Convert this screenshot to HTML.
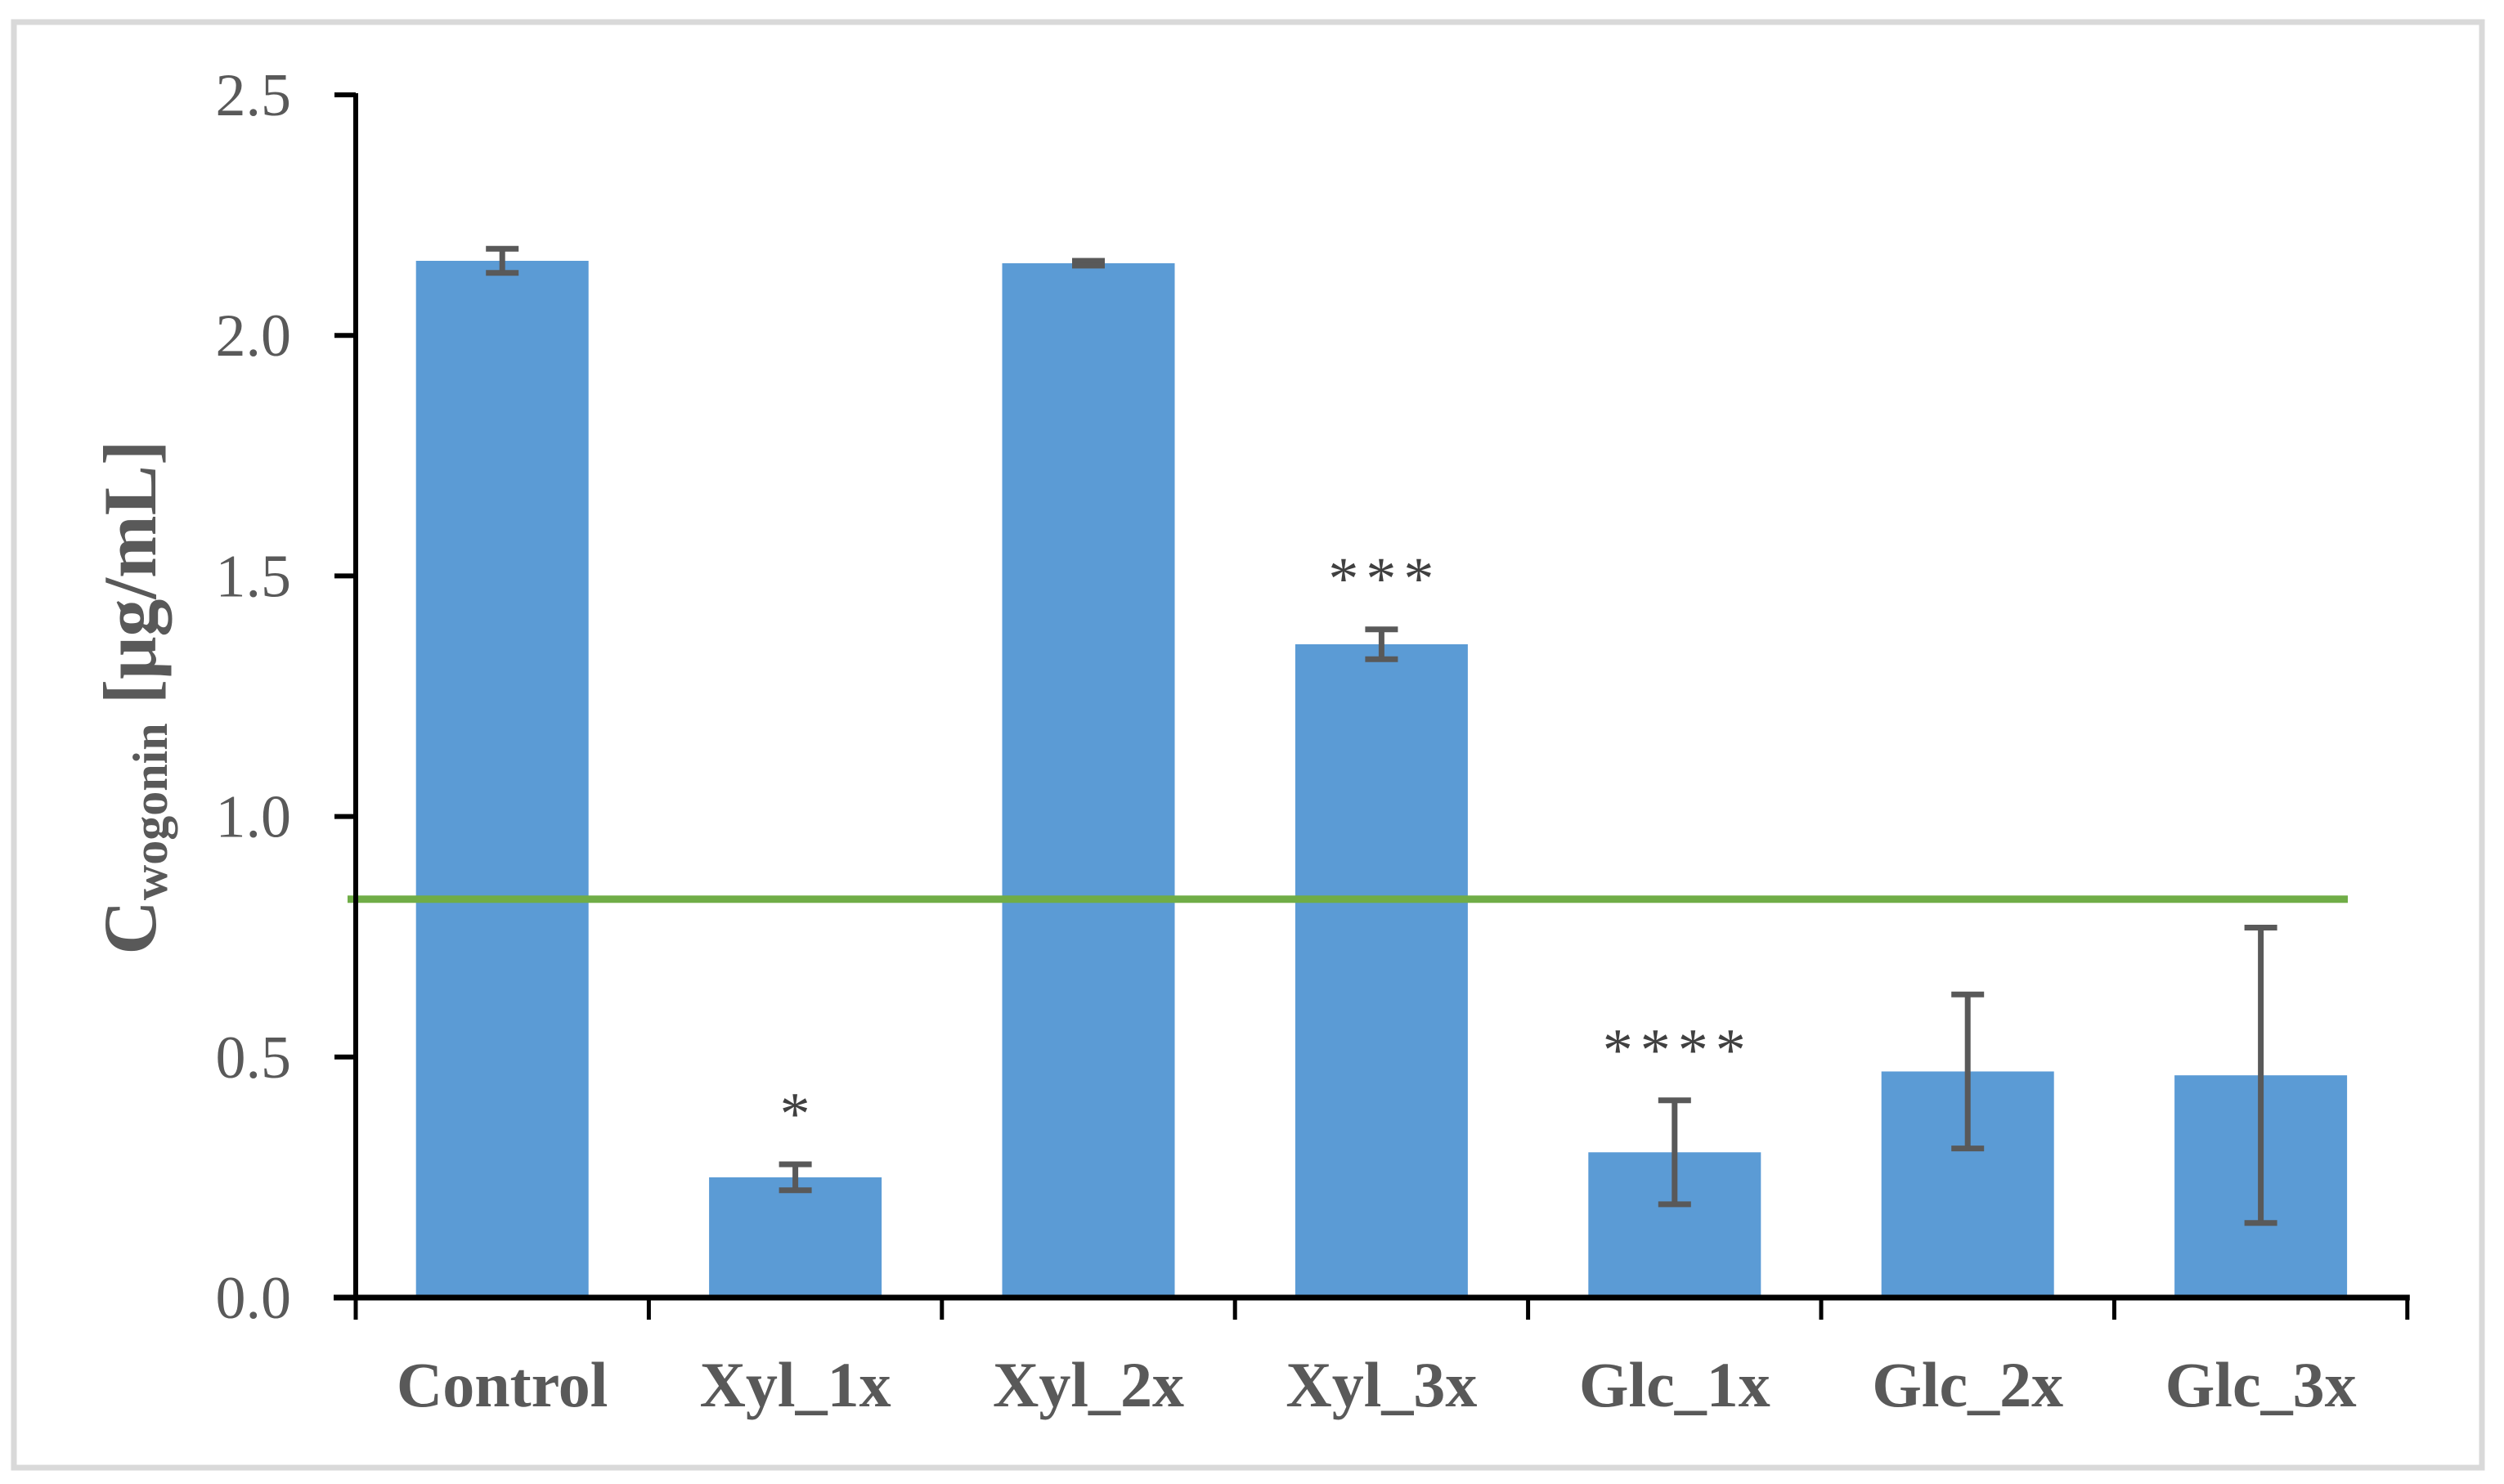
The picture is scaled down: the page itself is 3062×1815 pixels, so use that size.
<!DOCTYPE html>
<html><head><meta charset="utf-8"><style>
html,body{margin:0;padding:0;background:#fff;}
svg{display:block;}
text{font-family:"Liberation Serif",serif;}
</style></head><body>
<svg id="chart" width="3062" height="1815" viewBox="0 0 3062 1815" xmlns="http://www.w3.org/2000/svg">
<rect x="17" y="27" width="3018" height="1768" fill="#fff" stroke="#d9d9d9" stroke-width="7"/>
<g id="plot"></g>
<text transform="translate(190,853) rotate(-90)" text-anchor="middle" font-size="92" font-weight="bold" fill="#595959">C<tspan font-size="60" dy="14">wogonin</tspan><tspan dy="-14"> [μg/mL]</tspan></text>
</svg>
<script>
const categories = ["Control","Xyl_1x","Xyl_2x","Xyl_3x","Glc_1x","Glc_2x","Glc_3x"];
const values = [2.155, 0.25, 2.15, 1.358, 0.302, 0.47, 0.462];
const errors = [0.025, 0.027, 0.005, 0.031, 0.108, 0.16, 0.307];
const stars = ["", "*", "", "***", "****", "", ""];
const yTicks = [0, 0.5, 1.0, 1.5, 2.0, 2.5];
const yTickLabels = ["0.0","0.5","1.0","1.5","2.0","2.5"];
const referenceLine = [0.828];

const NS = "http://www.w3.org/2000/svg";
const g = document.getElementById("plot");
const X0 = 435, Y0 = 1587, YMAX = 2.5, YTOP = 116, STEP = 358.4, BW = 211;
function yScale(v){ return Y0 - (v / YMAX) * (Y0 - YTOP); }
function xCenter(i){ return X0 + (i + 0.5) * STEP; }
function mk(tag, attrs){ const e = document.createElementNS(NS, tag); for (const k in attrs) e.setAttribute(k, attrs[k]); g.appendChild(e); return e; }

categories.forEach((c, i) => {
  const cx = xCenter(i);
  const b = mk("rect", {x: cx - BW/2, y: yScale(values[i]), width: BW, height: Y0 - yScale(values[i]), fill: "#5b9bd5"});
  
  
});

const rl = mk("line", {x1: 425, x2: 2871, y1: yScale(referenceLine[0]), y2: yScale(referenceLine[0]), stroke: "#70ad47", "stroke-width": 9});



categories.forEach((c, i) => {
  const cx = xCenter(i);
  const top = yScale(values[i] + errors[i]), bot = yScale(values[i] - errors[i]);
  const eg = document.createElementNS(NS, "g");
  
  
  g.appendChild(eg);
  [[cx, top, cx, bot],[cx-20, top, cx+20, top],[cx-20, bot, cx+20, bot]].forEach(p => {
    const l = document.createElementNS(NS, "line");
    l.setAttribute("x1", p[0]); l.setAttribute("y1", p[1]); l.setAttribute("x2", p[2]); l.setAttribute("y2", p[3]);
    l.setAttribute("stroke", "#595959"); l.setAttribute("stroke-width", 7);
    eg.appendChild(l);
  });
  if (stars[i]) {
    const t = mk("text", {x: cx + 4, y: top - 37, "text-anchor": "middle", "font-size": 74, fill: "#404040", "letter-spacing": 9, "font-family": "Liberation Sans, sans-serif"});
    t.textContent = stars[i];
    
    
  }
  const lab = mk("text", {x: cx, y: 1720, "text-anchor": "middle", "font-size": 78, "font-weight": "bold", fill: "#595959"});
  lab.textContent = c;
  
  
});

const ya = mk("line", {x1: X0, x2: X0, y1: YTOP - 2, y2: Y0 + 3, stroke: "#000", "stroke-width": 6});


const xa = mk("line", {x1: 408, x2: X0 + 7*STEP + 3, y1: Y0, y2: Y0, stroke: "#000", "stroke-width": 7});


for (let i = 0; i <= categories.length; i++) {
  const t = mk("line", {x1: X0 + i*STEP, x2: X0 + i*STEP, y1: Y0, y2: 1614, stroke: "#000", "stroke-width": 5});
  
  
}
yTicks.forEach((v, i) => {
  const t = mk("line", {x1: 409, x2: X0, y1: yScale(v), y2: yScale(v), stroke: "#000", "stroke-width": 6});
  
  
  const l = mk("text", {x: 356, y: yScale(v) + 25, "text-anchor": "end", "font-size": 74, fill: "#595959"});
  l.textContent = yTickLabels[i];
  
  
});
</script>
</body></html>
